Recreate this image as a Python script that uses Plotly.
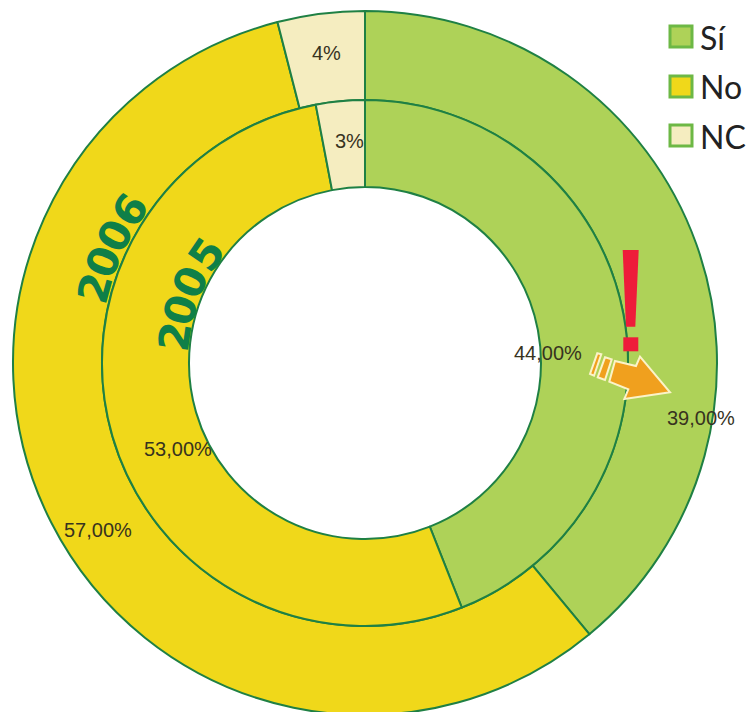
import math
import plotly.graph_objects as go

# Survey answers per year
categories = ["Sí", "No", "NC"]
values_2006 = [39, 57, 4]
values_2005 = [44, 53, 3]
year_outer = "2006"
year_inner = "2005"

W, H = 749, 716
CX, CY = 365, 363
R_OUT, R_MID, R_IN = 352, 263, 176

FILL = ["#AED258", "#F0D81A", "#F5EDC0"]
RING = "#1F8044"
TITLE_GREEN = "#0F7F48"
SWATCH_EDGE = "#6DB845"
LABEL_FONT = "Liberation Sans"


def px(x):
    return x / W


def py(y):
    return 1 - y / H


def poly(points):
    return "M " + " L ".join(f"{px(x):.5f},{py(y):.5f}" for x, y in points) + " Z"


def ring(values, name, outer, inner):
    return go.Pie(
        labels=categories,
        values=values,
        name=name,
        sort=False,
        direction="clockwise",
        rotation=0,
        hole=inner / outer,
        textinfo="none",
        marker=dict(colors=FILL, line=dict(color=RING, width=2)),
        domain=dict(
            x=[px(CX - outer), px(CX + outer)],
            y=[py(CY + outer), py(CY - outer)],
        ),
        showlegend=False,
    )


fig = go.Figure([
    ring(values_2006, year_outer, R_OUT, R_MID),
    ring(values_2005, year_inner, R_MID, R_IN),
])

annotations = []


def label(x, y, text, size=20, color="#37331f", font=LABEL_FONT, angle=0, weight=None, anchor="center"):
    annotations.append(dict(
        x=px(x), y=py(y), xref="paper", yref="paper", text=text, showarrow=False,
        xanchor=anchor, yanchor="middle", textangle=angle,
        font=dict(size=size, color=color, family=font, weight=weight),
    ))


def decimal(v):
    return f"{v:.2f}".replace(".", ",") + "%"


# Value labels sit where the printed chart put them, not at slice centres
label(701, 418, decimal(values_2006[0]))
label(98, 530, decimal(values_2006[1]))
label(326, 53, f"{values_2006[2]}%")
label(548, 353, decimal(values_2005[0]))
label(178, 449, decimal(values_2005[1]))
label(349, 141, f"{values_2005[2]}%")


# Year titles follow the ring, one rotated digit at a time
def arc_text(text, radius, angles):
    for ch, deg in zip(text, angles):
        a = math.radians(deg)
        label(CX - radius * math.sin(a), CY - radius * math.cos(a), ch,
              size=42, color=TITLE_GREEN, font="DejaVu Sans", angle=-deg, weight="bold")


arc_text(year_outer, 280, [74.6, 68.8, 63, 57])
arc_text(year_inner, 192, [82, 74, 65, 55.5])

shapes = []

# Legend swatches and names
for name, fill, top in zip(categories, FILL, [25, 75, 124]):
    shapes.append(dict(
        type="rect", xref="paper", yref="paper",
        x0=px(670), x1=px(692), y0=py(top + 1), y1=py(top + 22),
        fillcolor=fill, line=dict(color=SWATCH_EDGE, width=3),
    ))
    label(698, top + 12, name, size=32, color="#222222", font="Lato", anchor="left")

# Exclamation mark
for pts in (
    [(622.7, 250), (638.7, 250), (635.3, 326.7), (626, 326.7)],
    [(623.3, 337.3), (638.3, 337.3), (638.3, 351.3), (623.3, 351.3)],
):
    shapes.append(dict(type="path", xref="paper", yref="paper", path=poly(pts),
                       fillcolor="#EE1C3A", line=dict(width=0)))

# Orange arrow with its two trailing stripes
for pts in (
    [(615, 361), (636, 366), (640, 356.7), (670, 392.3), (624.3, 399), (628.3, 389.3), (609.3, 381.7)],
    [(605, 357.3), (611.7, 359.3), (605, 380), (597.7, 377.3)],
    [(597.3, 353.3), (601.3, 354.3), (594, 375.7), (590, 374)],
):
    shapes.append(dict(type="path", xref="paper", yref="paper", path=poly(pts),
                       fillcolor="#F0A01E", line=dict(color="#FBF3C8", width=2)))

fig.update_layout(
    width=W,
    height=H,
    margin=dict(l=0, r=0, t=0, b=0),
    paper_bgcolor="white",
    plot_bgcolor="white",
    annotations=annotations,
    shapes=shapes,
)

fig.write_html(
    "out.html",
    config=dict(displayModeBar=False),
    post_script="document.documentElement.style.overflow='hidden';document.body.style.overflow='hidden';",
)
